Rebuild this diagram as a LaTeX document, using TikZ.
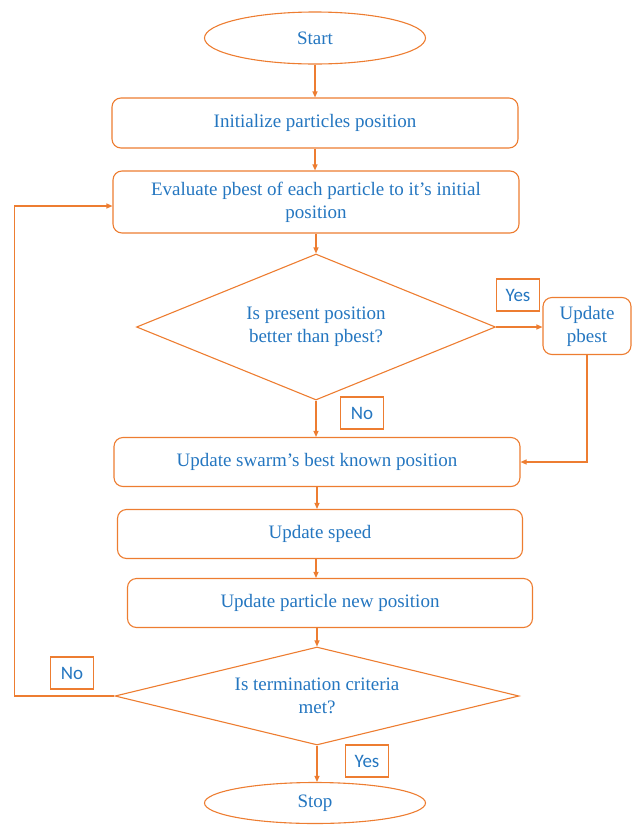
\documentclass[tikz,border=0pt]{standalone}
\usepackage{fontspec}
\setmainfont{Liberation Serif}
\newfontfamily\labelfont{Carlito}
\usetikzlibrary{shapes.geometric, arrows.meta, positioning}
\definecolor{lineorange}{RGB}{237,125,49}
\definecolor{textblue}{RGB}{36,118,192}

\begin{document}
\begin{tikzpicture}[x=1pt, y=-1pt, color=lineorange, line width=1.1pt,
    >={Triangle[length=6pt,width=5pt]},
    every node/.style={text=textblue, font=\fontsize{19}{23}\selectfont, align=center, inner sep=0pt},
    term/.style={draw, ellipse, minimum width=221pt, minimum height=52pt},
    procbox/.style={draw, rounded corners=9pt, minimum width=406pt, minimum height=50pt},
    decision/.style={draw, diamond},
    answer/.style={draw, font=\labelfont\fontsize{19}{22}\selectfont, minimum width=43pt, minimum height=32pt}]
    \useasboundingbox (0,0) rectangle (633,836);

    \node[term] (start) at (315,38) {Start};
    \node[procbox] (init) at (315,123) {Initialize particles position};
    \node[procbox, minimum height=62pt] (eval) at (316,202) {Evaluate pbest of each particle to it’s initial\\position};
    \node[decision, minimum width=359pt, minimum height=146pt, aspect=2.46] (better) at (316,327) {Is present position\\better than pbest?};
    \node[procbox, minimum width=88pt, minimum height=57pt] (pbest) at (587,326) {Update\\pbest};
    \node[procbox, minimum height=49pt] (swarm) at (317,462) {Update swarm’s best known position};
    \node[procbox, minimum width=405pt, minimum height=49pt] (speed) at (320,534) {Update speed};
    \node[procbox, minimum width=405pt, minimum height=49pt] (newpos) at (330,603) {Update particle new position};
    \node[decision, minimum width=404pt, minimum height=98pt, aspect=4.1] (stopcheck) at (317,696) {Is termination criteria\\met?};
    \node[term, minimum height=41pt] (stop) at (315,803) {Stop};

    % yes / no labels
    \node[answer] (yes1) at (518,295) {Yes};
    \node[answer] (no1) at (362,413) {No};
    \node[answer] (no2) at (72,673) {No};
    \node[answer] (yes2) at (367,761) {Yes};

    % main flow
    \draw[->] (start.south) -- (init.north);
    \draw[->] (init.south) -- (init.south |- eval.north);
    \draw[->] (eval.south) -- (better.north);
    \draw[->] (better.south) -- (better.south |- swarm.north);
    \draw[->] (swarm.south) -- (swarm.south |- speed.north);
    \draw[->] (speed.south -| better.south) -- (better.south |- newpos.north);
    \draw[->] (newpos.south -| stopcheck.north) -- (stopcheck.north);
    \draw[->] (stopcheck.south) -- (stopcheck.south |- stop.north);
    % branches
    \draw[->] (better.east) -- (better.east -| pbest.west);
    \draw[->] (pbest.south) |- (swarm.east);
    \draw[->] (stopcheck.west) -- ++(-100,0) |- ([yshift=-4pt]eval.west);
\end{tikzpicture}
\end{document}
